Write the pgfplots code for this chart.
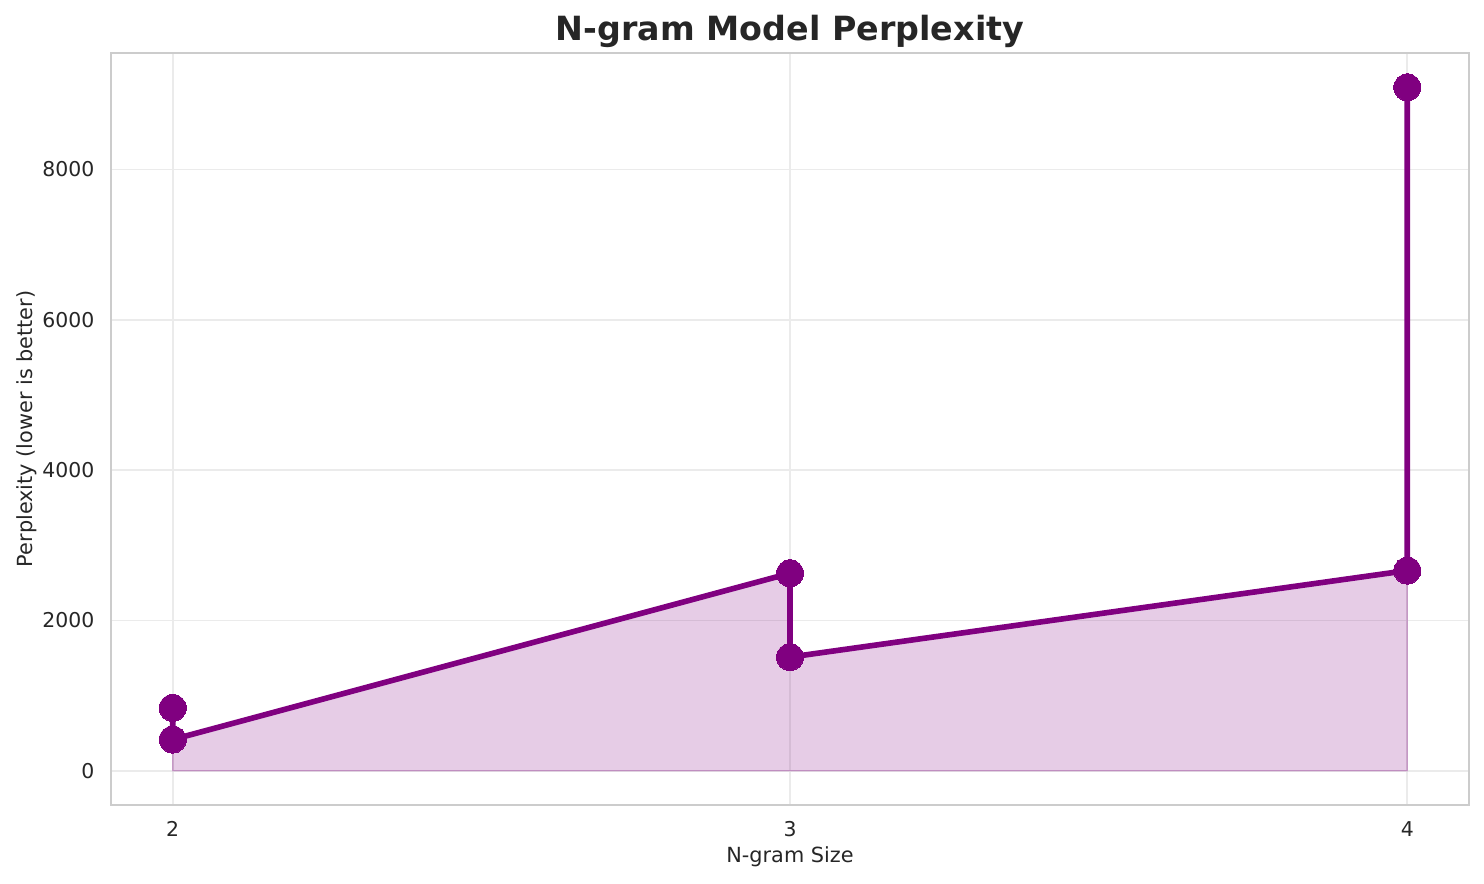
\documentclass[border=0pt]{standalone}
\usepackage{fontspec}
\setmainfont{DejaVu Sans}
\usepackage{pgfplots}
\pgfplotsset{compat=1.18}
\definecolor{mpurple}{HTML}{800080}
\definecolor{spine}{HTML}{CCCCCC}
\definecolor{gridc}{HTML}{EBEBEB}
\definecolor{txt}{HTML}{262626}
\begin{document}
\begin{tikzpicture}
\begin{axis}[
  scale only axis,
  width=652pt, height=361pt,
  xmin=1.9, xmax=4.1,
  ymin=-453, ymax=9550,
  xtick={2,3,4},
  ytick={0,2000,4000,6000,8000},
  /pgf/number format/assume math mode=true,
  /pgf/number format/1000 sep={},
  scaled y ticks=false,
  tick style={draw=none},
  ticklabel style={font=\fontsize{9.8}{12}\selectfont, text=txt},
  xticklabel style={yshift=-4.5pt},
  yticklabel style={xshift=-4.5pt},
  axis line style={draw=spine, line width=1pt},
  grid=major,
  major grid style={draw=gridc, line width=0.8pt},
  xlabel={N-gram Size},
  ylabel={Perplexity (lower is better)},
  label style={font=\fontsize{10}{12}\selectfont, text=txt},
  xlabel style={yshift=2pt},
  ylabel style={yshift=-4pt},
  title={\textbf{N-gram Model Perplexity}},
  title style={font=\fontsize{16}{19}\selectfont, text=txt, yshift=-7pt},
]
\addplot[draw=mpurple, draw opacity=0.3, line width=0.6pt, fill=mpurple, fill opacity=0.2] table {
x y
2 836
2 415
3 2627
3 1512
4 2663
4 9092
} \closedcycle;
\addplot[draw=mpurple, line width=2.7pt, mark=*, mark size=6.5pt, mark options={fill=mpurple, draw=mpurple, line width=0pt}] table {
x y
2 836
2 415
3 2627
3 1512
4 2663
4 9092
};
\end{axis}
\pgfresetboundingbox
\path ([xshift=-53.3pt,yshift=-37.9pt]current axis.south west) rectangle ([xshift=7.2pt,yshift=25.4pt]current axis.north east);
\end{tikzpicture}
\end{document}
